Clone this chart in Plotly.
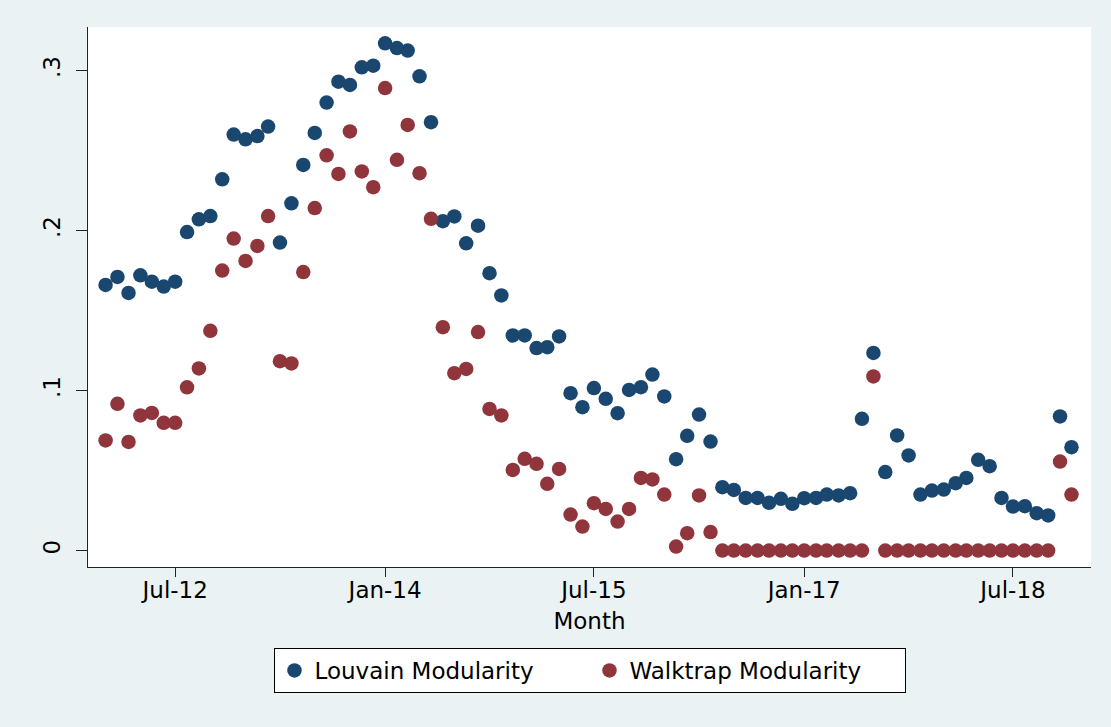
import pandas as pd
import plotly.graph_objects as go

# Monthly observations, Jan-2012 .. Dec-2018
months = pd.date_range("2012-01-01", periods=84, freq="MS")

louvain = [
    0.166, 0.171, 0.161, 0.172, 0.168, 0.165, 0.168, 0.199, 0.207, 0.209, 0.232, 0.260,
    0.257, 0.259, 0.265, 0.1925, 0.217, 0.241, 0.261, 0.280, 0.293, 0.291, 0.302, 0.303,
    0.317, 0.314, 0.3125, 0.2964, 0.2677, 0.2058, 0.2088, 0.192, 0.203, 0.1733, 0.1594, 0.1344,
    0.1344, 0.1265, 0.1271, 0.1338, 0.0983, 0.0896, 0.1015, 0.0948, 0.0858, 0.1004, 0.1021, 0.110,
    0.0963, 0.0571, 0.0717, 0.085, 0.0681, 0.0396, 0.0379, 0.0329, 0.0329, 0.0298, 0.0323, 0.0292,
    0.0327, 0.0329, 0.035, 0.0344, 0.0358, 0.0823, 0.1235, 0.0490, 0.0719, 0.0594, 0.035, 0.0375,
    0.0381, 0.0421, 0.0454, 0.0567, 0.0527, 0.0329, 0.0275, 0.0277, 0.0233, 0.0219, 0.0838, 0.0646,
]

walktrap = [
    0.0688, 0.0917, 0.0679, 0.0844, 0.0860, 0.0798, 0.0798, 0.102, 0.1138, 0.1373, 0.175, 0.195,
    0.181, 0.1904, 0.209, 0.1183, 0.1169, 0.174, 0.214, 0.247, 0.2354, 0.2619, 0.2369, 0.2271,
    0.289, 0.2442, 0.266, 0.2358, 0.2073, 0.1396, 0.1108, 0.1135, 0.1365, 0.0885, 0.0844, 0.0504,
    0.0573, 0.0542, 0.0417, 0.0510, 0.0225, 0.015, 0.0296, 0.0260, 0.0181, 0.026, 0.0454, 0.0444,
    0.035, 0.0025, 0.0108, 0.0344, 0.0115, 0.0, 0.0, 0.0, 0.0, 0.0, 0.0, 0.0,
    0.0, 0.0, 0.0, 0.0, 0.0, 0.0, 0.1088, 0.0, 0.0, 0.0, 0.0, 0.0,
    0.0, 0.0, 0.0, 0.0, 0.0, 0.0, 0.0, 0.0, 0.0, 0.0, 0.0556, 0.035,
]

x_tick_vals = ["2012-07-01", "2014-01-01", "2015-07-01", "2017-01-01", "2018-07-01"]
x_tick_text = ["Jul-12", "Jan-14", "Jul-15", "Jan-17", "Jul-18"]
y_tick_vals = [0, 0.1, 0.2, 0.3]
y_tick_text = ["0", ".1", ".2", ".3"]

NAVY = "#1A476F"
MAROON = "#90353B"
BG = "#EAF2F3"
FONT = "DejaVu Sans"

fig = go.Figure()
fig.add_trace(go.Scatter(
    x=months, y=louvain, mode="markers", name="Louvain Modularity",
    marker=dict(color=NAVY, size=14.5, line=dict(width=0)),
))
fig.add_trace(go.Scatter(
    x=months, y=walktrap, mode="markers", name="Walktrap Modularity",
    marker=dict(color=MAROON, size=14.5, line=dict(width=0)),
))

fig.update_layout(
    width=1111, height=727,
    margin=dict(l=88, r=20, t=27, b=160),
    paper_bgcolor=BG,
    plot_bgcolor="white",
    font=dict(family=FONT, size=23, color="black"),
    showlegend=True,
    legend=dict(
        orientation="h", x=0.5, xanchor="center", y=-0.15, yanchor="top",
        bgcolor="white", bordercolor="black", borderwidth=1,
        font=dict(family=FONT, size=23, color="black"),
        entrywidth=270, entrywidthmode="pixels",
    ),
    xaxis=dict(
        type="date",
        range=["2011-11-16", "2019-01-21"],
        tickvals=x_tick_vals, ticktext=x_tick_text,
        ticks="outside", ticklen=9, tickwidth=1.3, tickcolor="#222",
        ticklabelstandoff=-7,
        showline=True, linecolor="#222", linewidth=1.3,
        showgrid=False, zeroline=False,
        title=dict(text="Month", standoff=11, font=dict(family=FONT, size=23)),
    ),
    yaxis=dict(
        range=[-0.0103, 0.3272],
        tickvals=y_tick_vals, ticktext=y_tick_text, tickangle=-90,
        ticks="outside", ticklen=11, tickwidth=1.3, tickcolor="#222",
        ticklabelstandoff=7,
        showline=True, linecolor="#222", linewidth=1.3,
        showgrid=False, zeroline=False,
    ),
)

fig.write_html(
    "out.html",
    config={"displayModeBar": False},
    post_script="document.body.style.margin='0';document.body.style.background='%s';" % BG,
)
